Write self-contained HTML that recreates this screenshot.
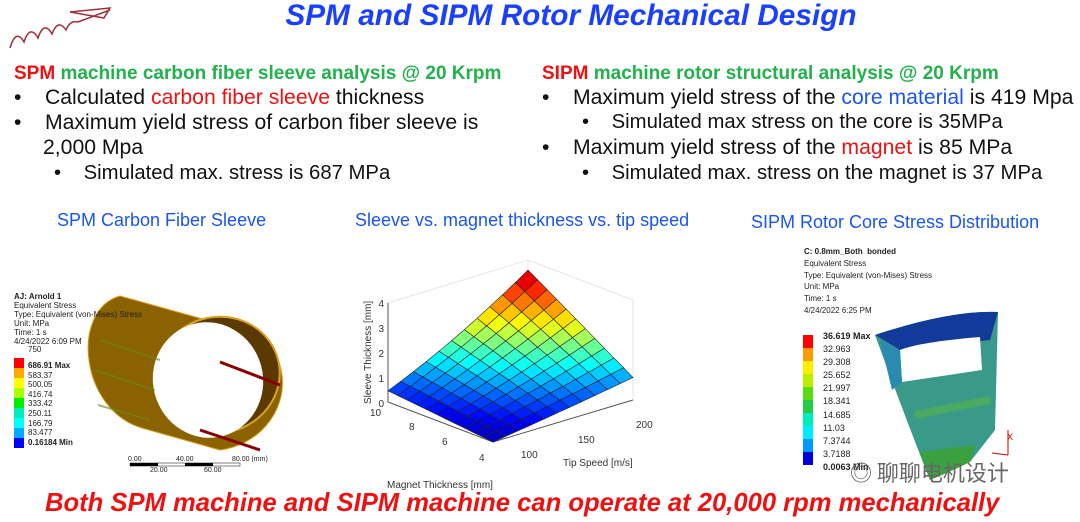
<!DOCTYPE html>
<html><head><meta charset="utf-8">
<style>
body{margin:0;width:1080px;height:522px;background:#fff;overflow:hidden;position:relative;font-family:"Liberation Sans","Noto Sans CJK SC",sans-serif}
.a{position:absolute;white-space:nowrap}
.t{left:0;width:1142px;text-align:center;top:-1px;font-size:29.8px;font-weight:bold;font-style:italic;color:#1a3fff}
.h{font-size:19px;font-weight:bold;color:#21b24b}
.r{color:#ee1111}
.b{font-size:21.2px;color:#111}
.bl{color:#1a55ee}
.s{font-size:18px;color:#1a55ee}
.sm{font-size:8px;color:#222;line-height:9px}
</style></head><body>
<svg class="a" style="left:0;top:0" width="130" height="55"><path d="M10 48 q6-20 14-6 q6-18 14-4 q6-18 14-4 q6-16 14-4 q4-10 12-8 L110 10" fill="none" stroke="#a0303a" stroke-width="1.5"/><path d="M70 12 l40 -4 l-6 10 z" fill="none" stroke="#a0303a" stroke-width="1.5"/></svg>
<div class="a t">SPM and SIPM Rotor Mechanical Design</div>
<div class="a h" style="left:14px;top:63px"><span class="r">SPM</span> machine carbon fiber sleeve analysis @ 20 Krpm</div>
<div class="a b" style="left:14px;top:86px">•&nbsp;&nbsp;&nbsp;&nbsp;Calculated <span class="r">carbon fiber sleeve</span> thickness</div>
<div class="a b" style="left:14px;top:111px">•&nbsp;&nbsp;&nbsp;&nbsp;Maximum yield stress of carbon fiber sleeve is</div>
<div class="a b" style="left:43px;top:136px">2,000 Mpa</div>
<div class="a b" style="left:54px;top:162px;font-size:20.3px">•&nbsp;&nbsp;&nbsp;&nbsp;Simulated max. stress is 687 MPa</div>
<div class="a h" style="left:542px;top:63px"><span class="r">SIPM</span> machine rotor structural analysis @ 20 Krpm</div>
<div class="a b" style="left:542px;top:86px">•&nbsp;&nbsp;&nbsp;&nbsp;Maximum yield stress of the <span class="bl">core material</span> is 419 Mpa</div>
<div class="a b" style="left:582px;top:111px;font-size:20.3px">•&nbsp;&nbsp;&nbsp;&nbsp;Simulated max stress on the core is 35MPa</div>
<div class="a b" style="left:542px;top:136px">•&nbsp;&nbsp;&nbsp;&nbsp;Maximum yield stress of the <span class="r">magnet</span> is 85 MPa</div>
<div class="a b" style="left:582px;top:162px;font-size:20.3px">•&nbsp;&nbsp;&nbsp;&nbsp;Simulated max. stress on the magnet is 37 MPa</div>
<div class="a s" style="left:57px;top:210px">SPM Carbon Fiber Sleeve</div>
<div class="a s" style="left:355px;top:210px">Sleeve vs. magnet thickness vs. tip speed</div>
<div class="a s" style="left:751px;top:212px">SIPM Rotor Core Stress Distribution</div>

<!-- left FEA -->
<svg class="a" style="left:0;top:250px" width="320" height="230">
<path d="M120 46 L206 70 A62 58 -15 0 1 220 200 L142 178 C80 160 70 60 120 46 Z" fill="#8a6200" stroke="#d89a10"/>
<ellipse cx="218" cy="125" rx="62" ry="58" transform="rotate(-15 218 125)" fill="#5a3a00" stroke="#e0a020" stroke-width="2"/>
<ellipse cx="208" cy="130" rx="55" ry="58" transform="rotate(-15 208 130)" fill="#fff"/>
<path d="M100 90 L160 110 M95 120 L155 140 M98 155 L150 170" stroke="#6a8a10" stroke-width="2" opacity=".6"/>
<path d="M220 112 L280 135 M200 180 L260 200" stroke="#8a0000" stroke-width="3"/>
<text x="128" y="211" font-size="7" fill="#222">0.00</text><text x="176" y="211" font-size="7" fill="#222">40.00</text><text x="232" y="211" font-size="7" fill="#222">80.00 (mm)</text>
<rect x="130" y="213" width="28" height="3" fill="#000"/><rect x="185" y="213" width="28" height="3" fill="#000"/><rect x="130" y="213" width="110" height="3" fill="none" stroke="#000" stroke-width=".5"/>
<text x="150" y="222" font-size="7" fill="#222">20.00</text><text x="204" y="222" font-size="7" fill="#222">60.00</text>
</svg>
<div class="a sm" style="left:14px;top:292px"><b>AJ: Arnold 1</b><br>Equivalent Stress<br>Type: Equivalent (von-Mises) Stress<br>Unit: MPa<br>Time: 1 s<br>4/24/2022 6:09 PM</div>
<div class="a sm" style="left:28px;top:345px">750</div>
<svg class="a" style="left:14px;top:358px" width="12" height="90"><g>
<rect y="0" width="10" height="10" fill="#f00"/><rect y="10" width="10" height="10" fill="#fa0"/><rect y="20" width="10" height="10" fill="#ff0"/><rect y="30" width="10" height="10" fill="#af0"/><rect y="40" width="10" height="10" fill="#0e0"/><rect y="50" width="10" height="10" fill="#0eb"/><rect y="60" width="10" height="10" fill="#0ff"/><rect y="70" width="10" height="10" fill="#0af"/><rect y="80" width="10" height="10" fill="#00f"/></g></svg>
<div class="a sm" style="left:28px;top:361px;line-height:9.6px"><b>686.91 Max</b><br>583.37<br>500.05<br>416.74<br>333.42<br>250.11<br>166.79<br>83.477<br><b>0.16184 Min</b></div>

<!-- middle chart -->
<svg class="a" style="left:0;top:0" width="1080" height="522" font-family="Liberation Sans,sans-serif" font-size="10" fill="#333">
<g stroke="#e6e6e6" fill="none"><path d="M388 402 L388 303 L528 260 L528 360 M528 260 L633 300 L633 400"/></g>
<g stroke="#555" fill="none"><path d="M388 402 L388 303 M388 402 L493 442 L633 400"/></g>
<g text-anchor="end"><text x="384" y="307">4</text><text x="384" y="332">3</text><text x="384" y="357">2</text><text x="384" y="382">1</text><text x="384" y="407">0</text></g>
<text x="370" y="416">10</text><text x="409" y="430">8</text><text x="442" y="445">6</text><text x="479" y="461">4</text>
<text x="521" y="458">100</text><text x="578" y="443">150</text><text x="636" y="428">200</text>
<text x="563" y="466">Tip Speed [m/s]</text>
<text x="387" y="488">Magnet Thickness [mm]</text>
<text transform="translate(371 404) rotate(-90)">Sleeve Thickness [mm]</text>
<g id="surf" stroke="#222" stroke-width=".6"></g>
</svg>
<script>
(function(){
var B=[493,442],L=[388,402],R=[633,400],s=22.5,N=11,g=document.getElementById('surf'),out='';
function z(u,v){return 0.5*u+0.9*v+0.1*v*v+2.5*u*v*(0.7+0.3*v);}
function P(u,v){var h=z(u,v);return [B[0]+(L[0]-B[0])*u+(R[0]-B[0])*v, B[1]+(L[1]-B[1])*u+(R[1]-B[1])*v-h*s];}
function jet(t){t=Math.max(0,Math.min(1,t))*0.92+0.05;var r=Math.min(1,Math.max(0,1.5-Math.abs(4*t-3))),gg=Math.min(1,Math.max(0,1.5-Math.abs(4*t-2))),b=Math.min(1,Math.max(0,1.5-Math.abs(4*t-1)));return 'rgb('+Math.round(r*255)+','+Math.round(gg*255)+','+Math.round(b*255)+')';}
for(var i=N-1;i>=0;i--)for(var j=N-1;j>=0;j--){var u0=i/N,u1=(i+1)/N,v0=j/N,v1=(j+1)/N;
var p=[P(u0,v0),P(u1,v0),P(u1,v1),P(u0,v1)];var zc=z((u0+u1)/2,(v0+v1)/2);
out+='<polygon points="'+p.map(function(q){return q[0].toFixed(1)+','+q[1].toFixed(1)}).join(' ')+'" fill="'+jet(zc/4)+'"/>';}
g.innerHTML=out;})();
</script>

<!-- right FEA -->
<div class="a sm" style="left:804px;top:246px;line-height:11.8px"><b>C: 0.8mm_Both&nbsp; bonded</b><br>Equivalent Stress<br>Type: Equivalent (von-Mises) Stress<br>Unit: MPa<br>Time: 1 s<br>4/24/2022 6:25 PM</div>
<svg class="a" style="left:803px;top:335px" width="12" height="130">
<rect y="0" width="10" height="13" fill="#f00"/><rect y="13" width="10" height="13" fill="#f90"/><rect y="26" width="10" height="13" fill="#fe0"/><rect y="39" width="10" height="13" fill="#be0"/><rect y="52" width="10" height="13" fill="#5d1"/><rect y="65" width="10" height="13" fill="#2c4"/><rect y="78" width="10" height="13" fill="#0eb"/><rect y="91" width="10" height="13" fill="#0ef"/><rect y="104" width="10" height="13" fill="#09f"/><rect y="117" width="10" height="13" fill="#00d"/></svg>
<div class="a sm" style="left:823px;top:330px;line-height:13.1px;font-size:9px"><b>36.619 Max</b><br>32.963<br>29.308<br>25.652<br>21.997<br>18.341<br>14.685<br>11.03<br>7.3744<br>3.7188<br><b>0.0063 Min</b></div>
<svg class="a" style="left:780px;top:240px" width="300" height="260">
<path d="M95 95 Q170 70 218 72 L215 190 L190 222 L150 240 Q130 190 95 95Z" fill="#3a9a8a"/>
<path d="M95 95 Q170 70 218 72 L210 100 L120 110Z" fill="#123a9a"/>
<path d="M150 240 Q170 232 190 222 L195 205 L140 212Z" fill="#3aa040"/>
<path d="M120 110 Q140 102 200 97 L202 130 L122 142 Z" fill="#fff"/>
<path d="M120 110 L122 142 L112 150 L100 100Z" fill="#2a8ab0"/>
<path d="M135 175 Q170 168 210 160" stroke="#4aaa60" stroke-width="8" fill="none"/>
<path d="M228 190 L228 215 M228 215 L212 213" stroke="#c00" stroke-width="1"/><text x="227" y="200" font-size="9" fill="#d00">X</text>
</svg>
<div class="a" style="left:850px;top:456px;font-size:22px;color:#666;font-family:'Noto Sans CJK SC',sans-serif">◎ 聊聊电机设计</div>
<div class="a" style="left:45px;top:489px;font-size:25.6px;font-weight:bold;font-style:italic;color:#ee1111">Both SPM machine and SIPM machine can operate at 20,000 rpm mechanically</div>
</body></html>
